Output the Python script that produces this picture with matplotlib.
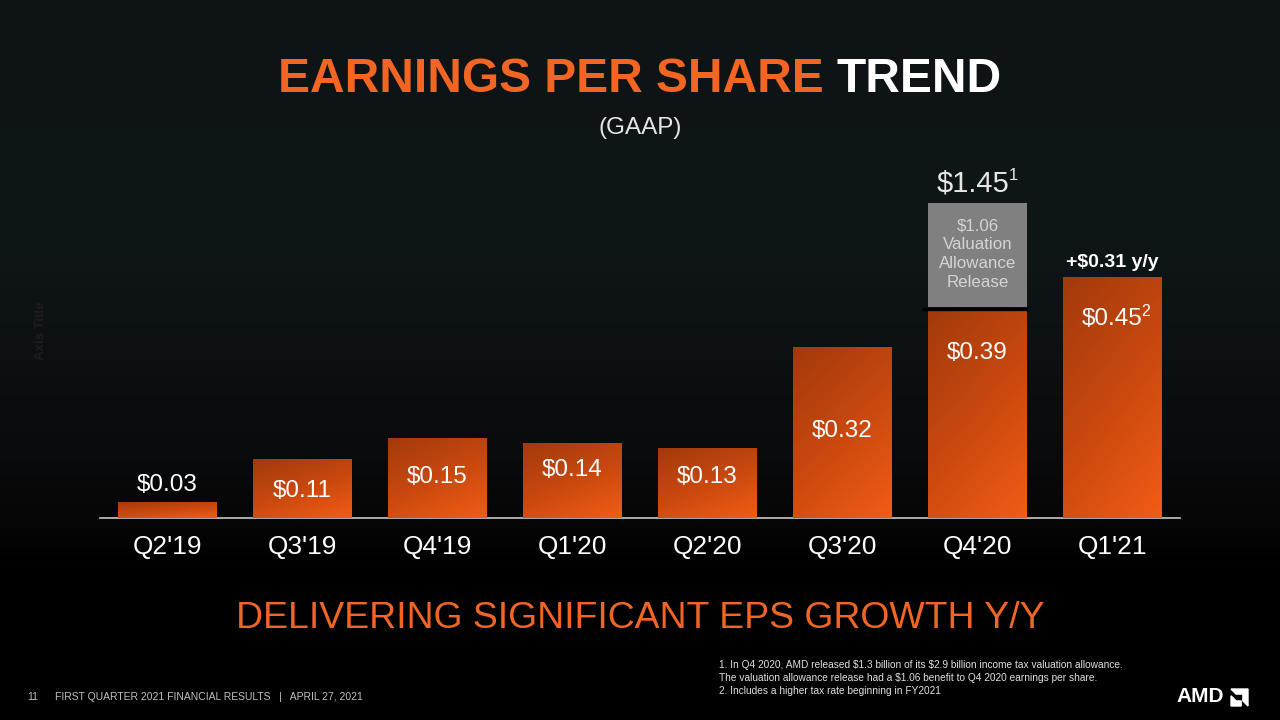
import matplotlib
matplotlib.use("Agg")
import matplotlib.pyplot as plt
import numpy as np
from matplotlib import font_manager as fm
from matplotlib.colors import LinearSegmentedColormap
from matplotlib.patches import Polygon

# ---------------- data ----------------
quarters = ["Q2'19", "Q3'19", "Q4'19", "Q1'20", "Q2'20", "Q3'20", "Q4'20", "Q1'21"]
eps = [0.03, 0.11, 0.15, 0.14, 0.13, 0.32, 0.39, 0.45]
eps_labels = ["$0.03", "$0.11", "$0.15", "$0.14", "$0.13", "$0.32", "$0.39", "$0.45"]
valuation_release = 1.06
q4_total = 1.45
yoy_change = 0.31

# ---------------- style ----------------
names = {f.name for f in fm.fontManager.ttflist}
HAS_NARROW = "Liberation Sans Narrow" in names
NARROW = "Liberation Sans Narrow" if HAS_NARROW else "Liberation Sans"
NK = 1.0 if HAS_NARROW else 0.84     # size factor when narrow face is missing
REG = "Liberation Sans"
plt.rcParams["font.family"] = [REG, "DejaVu Sans"]

ORANGE = "#f26522"
label_offsets_px = [17, -32, -39, -27, -29, -84, -44, -42]   # label centre vs bar top
px2pt = 0.72

W, H = 1280, 720
fig = plt.figure(figsize=(12.8, 7.2), dpi=100)
fig.patch.set_facecolor("black")

# background gradient
bg = fig.add_axes([0, 0, 1, 1], zorder=0)
rows = np.linspace(0, 1, 400)
stops_pos = [0.0, 0.35, 0.6, 0.72, 0.8, 1.0]
stops_col = np.array([[14, 20, 22], [15, 22, 24], [10, 12, 13], [6, 6, 7], [0, 0, 0], [0, 0, 0]]) / 255
img = np.stack([np.interp(rows, stops_pos, stops_col[:, c]) for c in range(3)], axis=1)
img = np.repeat(img[:, None, :], 2, axis=1)
bg.imshow(img, extent=[0, 1, 0, 1], aspect="auto", origin="upper")
bg.set_xlim(0, 1); bg.set_ylim(0, 1)
bg.axis("off")

# chart axes: baseline at y=518px, 135 px per category, ~535 px per $1
base_px = 518
scale = 535.0
ymax = 0.6
ax = fig.add_axes([100 / W, (H - base_px) / H, 1080 / W, ymax * scale / H], zorder=2)
ax.set_facecolor("none")
ax.set_xlim(-0.5, len(quarters) - 0.5)
ax.set_ylim(0, ymax)
for s in ["left", "right", "top"]:
    ax.spines[s].set_visible(False)
ax.spines["bottom"].set_color("#c8c8c8")
ax.spines["bottom"].set_linewidth(1.2)
ax.set_yticks([])
x = np.arange(len(quarters))
ax.set_xticks(x)
ax.set_xticklabels(quarters, fontsize=22.5 * NK, color="white", family=NARROW)
ax.tick_params(axis="x", length=0, pad=12)

bw = 0.726
bars = ax.bar(x, eps, width=bw, color="none", edgecolor="none", zorder=3)
cmap = LinearSegmentedColormap.from_list("amd", ["#a23a0c", "#c8480f", "#f25c15"])
gx, gy = np.meshgrid(np.linspace(0, 1, 60), np.linspace(0, 1, 120))
grad = 0.35 * gx + 0.65 * gy   # dark top-left -> bright bottom-right
for b in bars:
    x0, y0 = b.get_x(), b.get_y()
    im = ax.imshow(grad, cmap=cmap, extent=[x0, x0 + b.get_width(), y0, y0 + b.get_height()],
                   aspect="auto", origin="upper", zorder=3, vmin=0, vmax=1)
    im.set_clip_path(b)

# value labels
val_texts = []
for xi, v, lab, off in zip(x, eps, eps_labels, label_offsets_px):
    t = ax.annotate(lab, (xi, v), xytext=(0, off * px2pt), textcoords="offset points",
                    ha="center", va="center", color="white", fontsize=17.5, family=REG, zorder=5)
    val_texts.append(t)

# Q4'20 valuation allowance block (drawn truncated, as in the source)
q4 = quarters.index("Q4'20")
block_h = 0.195
ax.bar(q4, block_h, bottom=eps[q4] + 0.004, width=bw, color="#808080", zorder=3)
ax.plot([q4 - 0.41, q4 + bw / 2], [eps[q4], eps[q4]], color="black", lw=2.4, zorder=4,
        solid_capstyle="butt")
ax.text(q4, eps[q4] + 0.004 + block_h / 2 + 0.002,
        "$%.2f\nValuation\nAllowance\nRelease" % valuation_release,
        ha="center", va="center", color="#d4d4d4", fontsize=12.2, family=REG,
        linespacing=1.33, zorder=5)
t145 = ax.annotate("$%.2f" % q4_total, (q4, eps[q4] + 0.004 + block_h), xytext=(-3, 19 * px2pt),
                   textcoords="offset points", ha="center", va="center", color="#e6e6e6",
                   fontsize=21 if not HAS_NARROW else 23, family=NARROW,
                   annotation_clip=False, zorder=5)
ax.annotate("1", xy=(1, 1), xycoords=t145, xytext=(-1, 1), textcoords="offset points",
            ha="left", va="top", color="#e6e6e6", fontsize=12, family=NARROW)

# Q1'21 superscript and y/y
q1 = quarters.index("Q1'21")
ax.annotate("2", xy=(1, 1), xycoords=val_texts[q1], xytext=(-1, 3), textcoords="offset points",
            ha="left", va="top", color="white", fontsize=11.5, family=REG)
ax.annotate("+$%.2f y/y" % yoy_change, (q1, eps[q1]), xytext=(0, 15 * px2pt), textcoords="offset points",
            ha="center", va="center", color="white", fontsize=14, fontweight="bold", family=REG,
            annotation_clip=False)

# axis title placeholder (nearly invisible in source)
fig.text(41 / W, 1 - 331 / H, "Axis Title", rotation=90, ha="center", va="center",
         color="#1e1e1e", fontsize=9.5, fontweight="bold", family=REG)

# title
title_y = 1 - 79 / H
t1 = fig.text(0, title_y, "EARNINGS PER SHARE ", color=ORANGE, fontsize=41 * NK, fontweight="bold",
              family=NARROW, ha="left", va="center")
t2 = fig.text(0, title_y, "TREND", color="white", fontsize=41 * NK, fontweight="bold",
              family=NARROW, ha="left", va="center")
fig.canvas.draw()
r = fig.canvas.get_renderer()
w1 = t1.get_window_extent(r).width
w2 = t2.get_window_extent(r).width
start = (640 - (w1 + w2) / 2) / W
t1.set_x(start)
t2.set_x(start + w1 / W)
fig.text(0.5, 1 - 128 / H, "(GAAP)", color="#e6e6e6", fontsize=17.5, family=REG, ha="center", va="center")

# tagline
fig.text(640 / W, 1 - 618 / H, "DELIVERING SIGNIFICANT EPS GROWTH Y/Y", color=ORANGE,
         fontsize=32.0 * NK, family=NARROW, ha="center", va="center")

# footnotes
foot = ["1. In Q4 2020, AMD released \\$1.3 billion of its \\$2.9 billion income tax valuation allowance.",
        "The valuation allowance release had a \\$1.06 benefit to Q4 2020 earnings per share.",
        "2. Includes a higher tax rate beginning in FY2021"]
for i, line in enumerate(foot):
    fig.text(719 / W, 1 - (665 + 13 * i) / H, line, color="#e0e0e0", fontsize=7.3, family=REG,
             ha="left", va="center")

# footer
fig.text(27 / W, 1 - 697 / H, "11", color="#bfbfbf", fontsize=7.5, family=REG, ha="left", va="center")
fig.text(55 / W, 1 - 697 / H, "FIRST QUARTER 2021 FINANCIAL RESULTS   |   APRIL 27, 2021",
         color="#bfbfbf", fontsize=7.5, family=REG, ha="left", va="center")

# AMD logo
fig.text(1200 / W, 1 - 697 / H, "AMD", color="white", fontsize=15, fontweight="bold", family=REG,
         ha="center", va="center")
lx, ly, ls = 1231 / W, 1 - 706 / H, 17
def logo_pts(pts):
    return [(lx + px * ls / W, ly + py * ls / H) for px, py in pts]
fig.add_artist(Polygon(logo_pts([(0, 1), (1, 1), (1, 0), (0.7, 0.3), (0.7, 0.7), (0.3, 0.7)]),
                       closed=True, color="white", transform=fig.transFigure))
fig.add_artist(Polygon(logo_pts([(0, 0), (0, 0.6), (0.3, 0.3), (0.6, 0.3), (0.6, 0)]),
                       closed=True, color="white", transform=fig.transFigure))

fig.savefig("out.png", dpi=100, facecolor=fig.get_facecolor())
